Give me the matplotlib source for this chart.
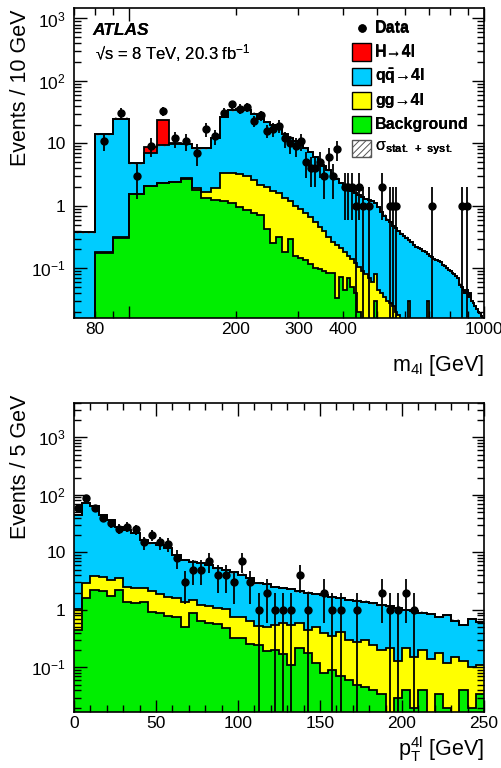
import numpy as np
import matplotlib
matplotlib.use("Agg")
import matplotlib.pyplot as plt
from matplotlib.patches import Rectangle
from matplotlib.ticker import FixedLocator, FixedFormatter, NullFormatter

plt.rcParams['font.family'] = ['Liberation Sans', 'DejaVu Sans']
plt.rcParams['mathtext.fontset'] = 'custom'
plt.rcParams['mathtext.rm'] = 'Liberation Sans'
plt.rcParams['mathtext.it'] = 'Liberation Sans:italic'
plt.rcParams['mathtext.bf'] = 'Liberation Sans:bold'
plt.rcParams['hatch.linewidth'] = 0.7

# ---------------- m4l panel (10 GeV bins, 70-1000 GeV) ----------------
m4l_edges = np.arange(70, 1001, 10)

m4l_bkg = [0.0, 0.177, 0.31, 1.54, 2.09, 2.33, 2.42, 2.74, 1.8, 1.35,
           1.25, 1.2, 1.12, 0.95, 0.85, 0.78, 0.72, 0.43, 0.25, 0.32,
           0.18, 0.30, 0.16, 0.144, 0.135, 0.117, 0.10, 0.096, 0.09, 0.085,
           0.085, 0.033, 0.073, 0.045, 0.07,
           0.05, 0.04, 0.02, 0.0, 0.0, 0.0, 0.0, 0.03, 0.0] + [0.0] * 49

m4l_gg = [0.0, 0.003, 0.005, 0.01, 0.01, 0.02, 0.03, 0.02, 0.15, 0.3,
          0.65, 2.1, 2.23, 2.25, 2.15, 1.86, 1.42, 1.54, 1.49, 1.28,
          1.18, 0.90, 0.84, 0.73, 0.62, 0.55, 0.46, 0.37, 0.30, 0.235,
          0.175, 0.20, 0.14, 0.135, 0.09,
          0.09, 0.08, 0.085, 0.09, 0.08, 0.07, 0.06, 0.05, 0.045, 0.04,
          0.035, 0.03, 0.028, 0.025, 0.02, 0.018, 0.015, 0.0, 0.0, 0.03,
          0.0, 0.0, 0.0, 0.0, 0.0, 0.0, 0.0, 0.03] + [0.0] * 30

m4l_qq = [0.375, 13.8, 24.7, 3.25, 4.95, 7.0, 7.5, 7.0, 6.35, 6.65,
          10.1, 23.2, 30.6, 32.8, 31.0, 27.4, 22.9, 20.0, 17.8, 15.7,
          13.0, 11.2, 9.8, 8.5, 7.55, 6.6, 5.5, 4.6, 3.9, 3.4,
          2.85, 2.5, 2.1, 1.9, 1.67,
          1.56, 1.48, 1.395, 1.31, 1.22, 1.18, 1.14, 1.02, 0.905, 0.76,
          0.665, 0.57, 0.52, 0.455, 0.42, 0.38, 0.345, 0.33, 0.31, 0.25,
          0.26, 0.24, 0.22, 0.21, 0.2, 0.19, 0.18, 0.14, 0.16, 0.15,
          0.14, 0.135, 0.13, 0.125, 0.115, 0.11, 0.1, 0.095, 0.09, 0.085,
          0.08, 0.075, 0.07, 0.055, 0.05, 0.045, 0.04, 0.045, 0.035, 0.04,
          0.03, 0.028, 0.025, 0.022, 0.02, 0.019, 0.017, 0.016]

m4l_higgs = [0.0] * 4 + [1.55, 14.1, 0.15] + [0.0] * 86

m4l_data_x = [85, 95, 105, 115, 125, 135, 145, 155, 165, 175,
              185, 195, 205, 215, 225, 235, 245, 255, 265, 275,
              285, 295, 305, 315, 325, 335, 345, 355, 365, 375,
              385, 405, 415, 425, 435, 445, 455, 475, 515, 545,
              555, 565, 715, 865, 895]
m4l_data_y = [11, 31, 3, 9, 33, 12, 11, 7, 17, 13,
              31, 42, 36, 38, 23, 28, 16, 17, 19, 12,
              10, 9, 11, 5, 4, 4, 5, 3, 6, 3,
              8, 2, 2, 2, 1, 2, 1, 1, 2, 1,
              1, 1, 1, 1, 1]

# ---------------- pT panel (5 GeV bins, 0-250 GeV) ----------------
pt_edges = np.arange(0, 251, 5)

pt_bkg = [0.45, 1.6, 2.23, 2.15, 1.75, 2.23, 1.4, 1.3, 1.4, 0.93,
          0.87, 0.78, 0.74, 0.51, 0.87, 0.63, 0.59, 0.58, 0.48, 0.32,
          0.32, 0.26, 0.25, 0.19, 0.2, 0.17, 0.11, 0.22, 0.18, 0.12,
          0.08, 0.09, 0.07, 0.06, 0.05, 0.045, 0.04, 0.035, 0.016, 0.03,
          0.04, 0.02, 0.04, 0.015, 0.035, 0.02, 0.015, 0.04, 0.02, 0.035]

pt_gg = [0.58, 1.3, 1.67, 1.65, 1.55, 1.37, 1.1, 1.15, 1.05, 1.17,
         1.0, 0.92, 0.86, 0.89, 0.63, 0.57, 0.58, 0.52, 0.55, 0.42,
         0.42, 0.39, 0.27, 0.31, 0.35, 0.43, 0.44, 0.38, 0.27, 0.38,
         0.32, 0.26, 0.35, 0.24, 0.23, 0.255, 0.21, 0.165, 0.204, 0.1,
         0.18, 0.13, 0.16, 0.125, 0.145, 0.1, 0.135, 0.09, 0.08, 0.075]

pt_qq = [44, 69, 59, 41, 33.5, 24.4, 22.1, 19.2, 14, 12.3,
         11.5, 10, 7.4, 6, 5.4, 5.3, 4.9, 4.2, 3.9, 3.76,
         3.36, 2.95, 2.38, 2.3, 1.95, 1.8, 1.75, 1.5, 1.55, 1.4,
         1.4, 1.35, 1.18, 1.2, 1.17, 1.1, 1.05, 1.0, 0.93, 0.97,
         0.78, 0.8, 0.7, 0.71, 0.57, 0.68, 0.5, 0.42, 0.6, 0.51]

pt_higgs = [0.0] * 50

pt_data_x = [2.5, 7.5, 12.5, 17.5, 22.5, 27.5, 32.5, 37.5, 42.5, 47.5,
             52.5, 57.5, 62.5, 67.5, 72.5, 77.5, 82.5, 87.5, 92.5, 97.5,
             102.5, 107.5, 112.5, 117.5, 122.5, 127.5, 132.5, 137.5, 142.5, 152.5,
             157.5, 162.5, 172.5, 187.5, 192.5, 197.5, 202.5, 207.5]
pt_data_y = [60, 87, 60, 40, 32, 26, 28, 25, 15, 20,
             15, 14, 8, 3, 5, 5, 7, 4, 4, 3,
             7, 3, 1, 2, 1, 1, 1, 4, 1, 2,
             1, 1, 1, 2, 1, 1, 2, 1]

legend_labels = ['Data', 'H→4l', r'$\mathbf{q\bar{q}}$→4l', 'gg→4l', 'Background']

C_H = '#ff0000'
C_QQ = '#00ccff'
C_GG = '#ffff00'
C_BKG = '#00ee00'

W, H = 502, 768
FLOOR = 1e-4


def px_axes(fig, left, top, right, bottom):
    return fig.add_axes([left / W, 1 - bottom / H, (right - left) / W, (bottom - top) / H])


def draw_stack(ax, edges, bkg, gg, qq, higgs):
    l1 = np.array(bkg)
    l2 = l1 + np.array(gg)
    l3 = l2 + np.array(qq)
    l4 = l3 + np.array(higgs)
    levels = [np.full_like(l1, FLOOR), l1, l2, l3, l4]
    colors = [C_BKG, C_GG, C_QQ, C_H]
    for i, c in enumerate(colors):
        lo = np.maximum(levels[i], FLOOR)
        hi = np.maximum(levels[i + 1], FLOOR)
        ax.stairs(hi, edges, baseline=lo, fill=True, color=c, lw=0)
    # uncertainty band
    ax.stairs(l3 * 1.05, edges, baseline=l3 * 0.95, fill=True, facecolor='none',
              edgecolor='#888888', hatch='//////', lw=0)
    for lev in [l4, l3, l2, l1]:
        ax.stairs(np.maximum(lev, FLOOR), edges, baseline=None, color='black', lw=1.3)


def draw_data(ax, x, y):
    y = np.array(y, dtype=float)
    err = np.sqrt(y)
    lo = np.maximum(y - err, FLOOR)
    ax.vlines(x, lo, y + err, color='black', lw=1.3, zorder=5)
    ax.plot(x, y, 'o', color='black', ms=5, zorder=6)


def style_axes(ax):
    for s in ax.spines.values():
        s.set_linewidth(1.2)
    ax.tick_params(which='both', direction='in', top=True, right=True, width=1.0,
                   labelsize=12.5)
    ax.tick_params(axis='y', which='both', pad=6)
    ax.tick_params(axis='x', which='both', pad=3)
    ax.tick_params(which='major', length=9)
    ax.tick_params(which='minor', length=5)


def y_log_ticks(ax):
    ax.set_yscale('log')
    ax.yaxis.set_major_locator(FixedLocator([0.1, 1, 10, 100, 1000]))
    ax.yaxis.set_major_formatter(FixedFormatter(['$10^{-1}$', '1', '10', '$10^{2}$', '$10^{3}$']))
    minors = [k * 10.0 ** e for e in range(-2, 4) for k in range(2, 10)]
    ax.yaxis.set_minor_locator(FixedLocator(minors))
    ax.yaxis.set_minor_formatter(NullFormatter())


def draw_labels(ax, top, bottom):
    hgt = bottom - top

    def fy(y):
        return 1 - (y - top) / hgt

    def fx(x):
        return (x - 74) / 410

    ax.text(fx(92), fy(35), 'ATLAS', transform=ax.transAxes, fontsize=12.5,
            fontweight='bold', fontstyle='italic', va='baseline', ha='left')
    ax.text(fx(95), fy(59.5), '√s = 8 TeV, 20.3 fb$^{-1}$', transform=ax.transAxes,
            fontsize=12, va='baseline', ha='left')
    # legend
    rows = [28, 52, 76, 100, 124, 148]
    ax.plot([fx(362)], [fy(rows[0])], 'o', color='black', ms=5, transform=ax.transAxes, clip_on=False)
    box_colors = [C_H, C_QQ, C_GG, C_BKG]
    for i, lab in enumerate(legend_labels):
        ax.text(fx(375), fy(rows[i]), lab, transform=ax.transAxes, fontsize=11.5,
                fontweight='bold', va='center', ha='left')
    for i, c in enumerate(box_colors):
        yc = rows[i + 1]
        ax.add_patch(Rectangle((fx(352), fy(yc + 8.5)), 19 / 410, 17 / hgt,
                               transform=ax.transAxes, facecolor=c, edgecolor='black', lw=1.0))
    yc = rows[5]
    ax.add_patch(Rectangle((fx(352), fy(yc + 8.5)), 19 / 410, 17 / hgt,
                           transform=ax.transAxes, facecolor='white', edgecolor='#555555',
                           hatch='/////', lw=1.0))
    ax.text(fx(375), fy(rows[5]), r'σ$_{\mathbf{stat.\ +\ syst.}}$', transform=ax.transAxes,
            fontsize=11.5, va='center', ha='left')


fig = plt.figure(figsize=(W / 100, H / 100), dpi=100)

# top panel
ax1 = px_axes(fig, 74, 7.5, 484, 318)
draw_stack(ax1, m4l_edges, m4l_bkg, m4l_gg, m4l_qq, m4l_higgs)
draw_data(ax1, m4l_data_x, m4l_data_y)
ax1.set_xscale('log')
ax1.set_xlim(70, 1000)
ax1.set_ylim(0.016, 1500)
y_log_ticks(ax1)
ax1.xaxis.set_major_locator(FixedLocator([100, 1000]))
ax1.xaxis.set_major_formatter(FixedFormatter(['', '1000']))
ax1.xaxis.set_minor_locator(FixedLocator([70, 80, 90, 200, 300, 400, 500, 600, 700, 800, 900]))
ax1.xaxis.set_minor_formatter(FixedFormatter(['', '80', '', '200', '300', '400', '', '', '', '', '']))
style_axes(ax1)
ax1.set_ylabel('Events / 10 GeV', fontsize=15.5, loc='top')
ax1.yaxis.set_label_coords(-0.105, 0.995)
ax1.set_xlabel(r'm$_{\mathrm{4l}}$ [GeV]', fontsize=15.5, loc='right')
ax1.xaxis.set_label_coords(1.0, -0.112)
draw_labels(ax1, 7.5, 318)

# bottom panel
ax2 = px_axes(fig, 74, 402.7, 484, 711.7)
draw_stack(ax2, pt_edges, pt_bkg, pt_gg, pt_qq, pt_higgs)
draw_data(ax2, pt_data_x, pt_data_y)
ax2.set_xlim(0, 250)
ax2.set_ylim(0.017, 4000)
y_log_ticks(ax2)
ax2.xaxis.set_major_locator(FixedLocator([0, 50, 100, 150, 200, 250]))
ax2.xaxis.set_minor_locator(FixedLocator(list(range(10, 250, 10))))
style_axes(ax2)
ax2.set_ylabel('Events / 5 GeV', fontsize=15.5, loc='top')
ax2.yaxis.set_label_coords(-0.105, 1.025)
ax2.set_xlabel(r'p$_{\mathrm{T}}^{\mathrm{4l}}$ [GeV]', fontsize=15.5, loc='right')
ax2.xaxis.set_label_coords(1.0, -0.075)
draw_labels(ax2, 402.7, 711.7)

fig.savefig('out.png', dpi=100)
